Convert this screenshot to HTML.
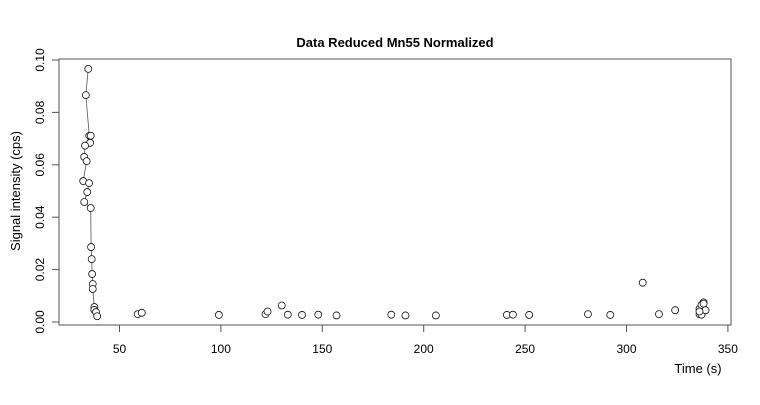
<!DOCTYPE html>
<html><head><meta charset="utf-8"><style>
body{margin:0;background:#fff;}
svg text{font-family:"Liberation Sans",Arial,sans-serif;}
</style></head><body>
<svg width="760" height="400" xmlns="http://www.w3.org/2000/svg">
<rect width="760" height="400" fill="#fff"/>
<g id="plot"></g>
</svg>
<script>
const spikeTimes=[34.6,33.4,35.1,35.8,35.5,33.0,32.6,33.8,32.1,35.0,34.1,32.6,35.8,36.0,36.3,36.5,36.8,36.8,37.6,37.6,38.4,39.0];
const spikeValues=[0.0966,0.0866,0.0711,0.0711,0.0684,0.0673,0.063,0.0614,0.0538,0.053,0.0496,0.0458,0.0435,0.0286,0.024,0.0183,0.0145,0.0126,0.0057,0.0046,0.0038,0.0022];
const lowTimes=[59,61,99,122,123,130,133,140,148,157,184,191,206,241,244,252,281,292,308,316,324,336,336,337,337,337,338,338,339,336];
const lowValues=[0.003,0.0035,0.0027,0.003,0.004,0.0063,0.0028,0.0027,0.0028,0.0025,0.0028,0.0025,0.0025,0.0027,0.0028,0.0027,0.003,0.0027,0.015,0.003,0.0045,0.005,0.003,0.0035,0.0028,0.0065,0.0075,0.007,0.0045,0.004];
const xTicks=[50,100,150,200,250,300,350];
const yTicks=[0,0.02,0.04,0.06,0.08,0.10];
const yTickLabels=["0.00","0.02","0.04","0.06","0.08","0.10"];
const NS="http://www.w3.org/2000/svg";
const g=document.getElementById('plot');
const X=t=>119.5+(t-50)*2.028;
const Y=v=>322-v*2620;
function mk(tag,attrs){const e=document.createElementNS(NS,tag);for(const k in attrs)e.setAttribute(k,attrs[k]);g.appendChild(e);return e;}
const box=mk('rect',{x:59,y:59,width:672,height:266,fill:'none',stroke:'#555','stroke-width':1});


const t=mk('text',{x:395,y:47,'text-anchor':'middle','font-size':13,'font-weight':'bold'});t.textContent='Data Reduced Mn55 Normalized';


const yl=mk('text',{x:0,y:0,'text-anchor':'middle','font-size':13,transform:'translate(20,191) rotate(-90)'});yl.textContent='Signal intensity (cps)';


const xl=mk('text',{x:698,y:373,'text-anchor':'middle','font-size':13});xl.textContent='Time (s)';


mk('line',{x1:X(50),x2:X(350),y1:325,y2:325,stroke:'#555'});
xTicks.forEach(v=>{const l=mk('line',{x1:X(v),x2:X(v),y1:325,y2:332,stroke:'#555'});


const tx=mk('text',{x:X(v),y:353,'text-anchor':'middle','font-size':12});tx.textContent=v;

});
yTicks.forEach((v,i)=>{const l=mk('line',{x1:52,x2:59,y1:Y(v),y2:Y(v),stroke:'#555'});


const tx=mk('text',{x:0,y:0,'text-anchor':'middle','font-size':12,transform:`translate(44,${Y(v)}) rotate(-90)`});tx.textContent=yTickLabels[i];

});
const pl=mk('polyline',{points:spikeTimes.map((s,i)=>X(s)+','+Y(spikeValues[i])).join(' '),fill:'none',stroke:'#555','stroke-width':0.8});


function pt(s,v){const c=mk('circle',{cx:X(s),cy:Y(v),r:3.5,fill:'#fff',stroke:'#111','stroke-width':0.8});

}
spikeTimes.forEach((s,i)=>pt(s,spikeValues[i]));
lowTimes.forEach((s,i)=>pt(s,lowValues[i]));
</script>
</body></html>
